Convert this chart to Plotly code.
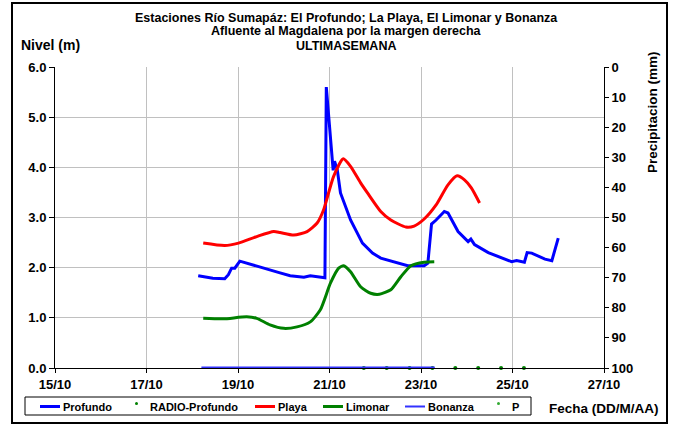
import pandas as pd
import plotly.graph_objects as go

# dias (dia de octubre con fraccion) y niveles (m)
profundo_dia = [18.13, 18.45, 18.71, 18.79, 18.86, 18.93, 19.04, 19.15, 19.40, 19.63, 19.90,
                20.14, 20.44, 20.58, 20.70, 20.84, 20.90, 20.93, 21.00, 21.06, 21.08, 21.11,
                21.17, 21.24, 21.46, 21.72, 21.94, 22.12, 22.41, 22.71, 23.07, 23.15, 23.23,
                23.33, 23.51, 23.59, 23.81, 24.03, 24.09, 24.17, 24.47, 24.76, 24.98, 25.09,
                25.26, 25.32, 25.42, 25.71, 25.86, 26.00]
profundo_nivel = [1.84, 1.79, 1.78, 1.86, 1.99, 1.99, 2.13, 2.10, 2.03, 1.96, 1.90,
                  1.84, 1.81, 1.84, 1.82, 1.81, 1.80, 5.60, 4.75, 4.12, 3.94, 4.12,
                  3.95, 3.49, 2.95, 2.49, 2.29, 2.19, 2.12, 2.04, 2.04, 2.09, 2.87,
                  2.95, 3.12, 3.09, 2.72, 2.52, 2.57, 2.46, 2.30, 2.19, 2.12, 2.14,
                  2.11, 2.30, 2.29, 2.17, 2.14, 2.59]

playa_dia = [18.24, 18.71, 19.01, 19.41, 19.78, 19.92, 20.22, 20.51, 20.73, 20.87, 21.09,
             21.30, 21.46, 21.68, 21.83, 22.12, 22.34, 22.67, 22.85, 23.07, 23.33, 23.59,
             23.79, 23.95, 24.10, 24.28]
playa_nivel = [2.49, 2.44, 2.49, 2.62, 2.72, 2.70, 2.65, 2.72, 2.89, 3.15, 3.82,
               4.17, 4.02, 3.69, 3.49, 3.12, 2.95, 2.81, 2.83, 2.97, 3.25, 3.65,
               3.83, 3.75, 3.59, 3.29]

limonar_dia = [18.24, 18.68, 19.19, 19.41, 19.70, 20.00, 20.29, 20.58, 20.80, 21.02, 21.20,
               21.31, 21.46, 21.68, 21.90, 22.09, 22.34, 22.56, 22.78, 23.07, 23.29]
limonar_nivel = [0.99, 0.98, 1.02, 0.99, 0.86, 0.79, 0.82, 0.92, 1.16, 1.69, 1.99,
                 2.04, 1.92, 1.62, 1.49, 1.47, 1.56, 1.82, 2.04, 2.11, 2.12]

bonanza_dia = [18.20, 23.30]
bonanza_nivel = [0.0, 0.0]

radio_dia = [21.75, 22.25, 22.75, 23.25, 23.75, 24.25, 24.75, 25.25]
radio_nivel = [0, 0, 0, 0, 0, 0, 0, 0]

# leyenda: nombre, color, tipo
leyenda = [("Profundo", "#0000ff", "line"), ("RADIO-Profundo", "#008000", "dot"),
           ("Playa", "#ff0000", "line"), ("Limonar", "#008000", "line"),
           ("Bonanza", "#3333ff", "line"), ("P", "#33aa33", "dot")]

titulo = ["Estaciones Río Sumapáz: El Profundo; La Playa, El Limonar y Bonanza",
          "Afluente al Magdalena por la margen derecha",
          "ULTIMASEMANA"]


def fecha(dias):
    return [pd.Timestamp("2014-10-01") + pd.Timedelta(days=d - 1) for d in dias]


FONT = "Liberation Sans, Arial, sans-serif"
L, T, R, B = 55, 67, 604, 368   # area del grafico en pixeles


def px(x):
    return (x - L) / (R - L)


def py(y):
    return (B - y) / (B - T)


fig = go.Figure()
fig.add_trace(go.Scatter(x=fecha(profundo_dia), y=profundo_nivel, name="Profundo",
                         mode="lines", line=dict(color="#0000ff", width=3)))
fig.add_trace(go.Scatter(x=fecha(radio_dia), y=radio_nivel, name="RADIO-Profundo",
                         mode="markers", marker=dict(color="#008000", size=4), cliponaxis=False))
fig.add_trace(go.Scatter(x=fecha(playa_dia), y=playa_nivel, name="Playa", mode="lines",
                         line=dict(color="#ff0000", width=3, shape="spline", smoothing=0.6)))
fig.add_trace(go.Scatter(x=fecha(limonar_dia), y=limonar_nivel, name="Limonar", mode="lines",
                         line=dict(color="#008000", width=3, shape="spline", smoothing=0.6)))
fig.add_trace(go.Scatter(x=fecha(bonanza_dia), y=bonanza_nivel, name="Bonanza", mode="lines",
                         line=dict(color="#3333ff", width=3)))
fig.add_trace(go.Scatter(x=[None], y=[None], name="P", mode="markers", yaxis="y2",
                         marker=dict(color="#33aa33", size=3)))

fig.update_layout(
    width=674, height=428,
    margin=dict(l=L, r=674 - R, t=T, b=428 - B, autoexpand=False),
    paper_bgcolor="white", plot_bgcolor="white",
    font=dict(family=FONT, size=13, color="black", weight="bold"),
    showlegend=False,
    xaxis=dict(range=["2014-10-15", "2014-10-27"], tick0="2014-10-15", dtick=2 * 86400000,
               tickformat="%d/%m", showgrid=True, gridcolor="#c0c0c0", gridwidth=1,
               showline=True, linecolor="black", linewidth=1, ticks="outside",
               ticklen=4, tickcolor="black", zeroline=False),
    yaxis=dict(range=[0, 6], dtick=1, tickformat=".1f", showgrid=True, gridcolor="#c0c0c0",
               showline=True, linecolor="black", linewidth=1, ticks="outside",
               ticklen=5, tickcolor="black", zeroline=False),
    yaxis2=dict(overlaying="y", side="right", range=[100, 0], dtick=10, showgrid=False,
                showline=True, linecolor="black", linewidth=1, ticks="outside",
                ticklen=4, tickcolor="black", zeroline=False),
)

# titulo
for texto, yc in zip(titulo, [17.5, 31, 45.5]):
    fig.add_annotation(text=texto, xref="paper", yref="paper", x=px(346), y=py(yc),
                       xanchor="center", yanchor="middle", showarrow=False, font=dict(size=12.5))

fig.add_annotation(text="Nivel (m)", xref="paper", yref="paper", x=px(19), y=py(45),
                   xanchor="left", yanchor="middle", showarrow=False, font=dict(size=14))
fig.add_annotation(text="Precipitacion (mm)", xref="paper", yref="paper", x=px(652),
                   y=py(112), textangle=-90, xanchor="center", yanchor="middle",
                   showarrow=False, font=dict(size=13.5))
fig.add_annotation(text="Fecha (DD/M/AA)", xref="paper", yref="paper", x=px(604), y=py(408),
                   xanchor="center", yanchor="middle", showarrow=False, font=dict(size=13.5))

# marco exterior
fig.add_shape(type="rect", xref="paper", yref="paper", x0=px(12), x1=px(667),
              y0=py(423), y1=py(3), line=dict(color="black", width=2))

# leyenda dibujada a mano
fig.add_shape(type="rect", xref="paper", yref="paper", x0=px(25), x1=px(531),
              y0=py(415), y1=py(397), line=dict(color="black", width=1))
pos_leyenda = [40, 131, 255, 323, 405, 493]
for (nombre, color, tipo), x0 in zip(leyenda, pos_leyenda):
    if tipo == "line":
        fig.add_shape(type="line", xref="paper", yref="paper", x0=px(x0), x1=px(x0 + 20),
                      y0=py(406.5), y1=py(406.5),
                      line=dict(color=color, width=2 if nombre == "Bonanza" else 3))
        xt = x0 + 21
    else:
        fig.add_shape(type="circle", xref="paper", yref="paper", x0=px(x0 + 4), x1=px(x0 + 7),
                      y0=py(405), y1=py(402), fillcolor=color, line=dict(width=0))
        xt = x0 + 17
    fig.add_annotation(text=nombre, xref="paper", yref="paper", x=px(xt), y=py(407),
                       xanchor="left", yanchor="middle", showarrow=False, font=dict(size=11))

fig.write_html("out.html", config={"displayModeBar": False},
               post_script="document.body.style.margin='0';")
